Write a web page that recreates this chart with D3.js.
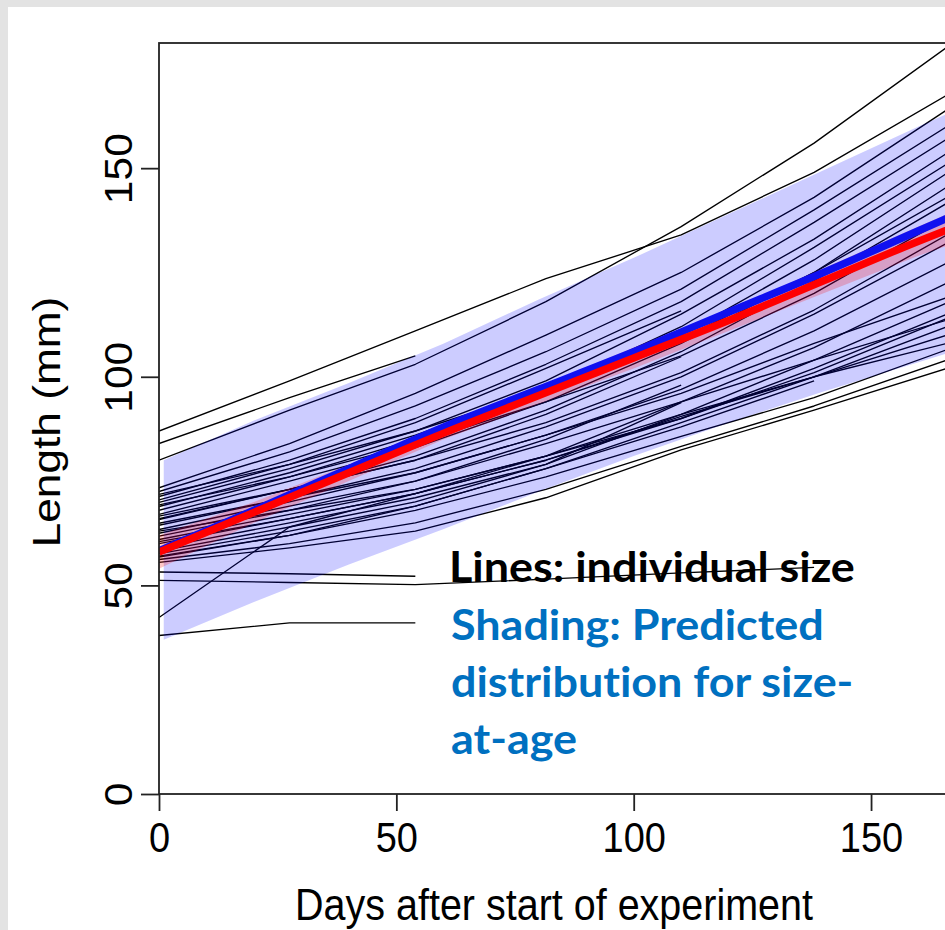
<!DOCTYPE html>
<html>
<head>
<meta charset="utf-8">
<script src="https://cdn.jsdelivr.net/npm/d3@7"></script>
<style>
  html, body { margin: 0; padding: 0; background: #e3e3e3; overflow: hidden; }
  svg { display: block; }
  text { font-variant-ligatures: none; font-feature-settings: "liga" 0; }
</style>
</head>
<body>
<svg id="chart" width="945" height="930"></svg>
<script>
// Measurement occasions (days after start of experiment)
const sampleDays = [0, 27.5, 54, 81.5, 110, 138, 166];

// Length (mm) of each individual at every occasion; shorter rows left the study early
const fishLengths = [
  [87, 99, 111, 123.5, 134, 149, 167.5],
  [84, 95, 105],
  [80, 92, 103, 118, 136, 156, 179],
  [73.4, 84, 96, 110, 125, 143, 164],
  [72.5, 82, 93, 106, 121, 140, 160],
  [71.8, 79, 87, 97, 109, 125, 143],
  [71.3, 80, 90, 103, 118, 137, 157],
  [70.5, 79, 89, 102, 115.8],
  [69.9, 78, 87, 99, 115, 133, 153.6],
  [69.3, 76, 84, 94, 105, 120, 138],
  [68.9, 77, 86, 97, 112, 131, 151],
  [68, 76, 85, 96, 110, 128, 148.8],
  [67, 75, 83, 94, 108, 125, 145.5],
  [66.6, 73, 80, 89, 101, 116, 134],
  [66, 73, 80, 91, 104.8],
  [65.8, 73, 81, 92, 106, 123, 141.6],
  [64.9, 71, 77, 86, 96, 108, 119],
  [64.4, 71, 78, 88, 100, 115, 132],
  [63.4, 70, 77, 86, 97, 111, 127.3],
  [63, 68, 73, 81, 90, 101, 114],
  [62.5, 69, 75, 84, 94, 107, 122.5],
  [61.8, 68, 75, 85, 98],
  [61, 67, 73, 81, 91, 104, 117.7],
  [60.5, 66, 72, 80, 90.5, 100, 108],
  [60, 66, 72, 81, 94, 104, 113.6],
  [59, 65, 71, 79, 93.8],
  [58.2, 64, 70, 79, 91, 100, 110],
  [57.6, 63, 69, 78, 89, 100, 112],
  [57, 62, 68, 76, 85.7, 95, 106.5],
  [56.8, 62, 69, 78, 88, 99],
  [56.2, 60, 65, 73, 83.3, 93, 104],
  [55.5, 59, 63, 71, 82.5, 92, 102],
  [53.2, 52.8, 52.2],
  [51.2, 50.7, 50.2, 51.5, 53, 54.3],
  [42.3, 64, 72, 80, 90, 102, 115],
  [38, 41, 41]
];

// Model curves
const modelDays    = [0, 20, 40, 60, 80, 100, 120, 140, 160, 170];
const fittedMean   = [58.3, 68, 78, 88, 97, 106, 115.5, 125, 135, 140];
const observedMean = [58, 67.5, 77, 86.5, 95.5, 104.5, 113.5, 123, 132.5, 137];
const observedLow  = [54, 65, 75, 85, 93.5, 102, 111, 120, 129, 133];
const observedHigh = [62, 70, 79, 88, 97.5, 107, 116, 126, 136, 141];

// Predicted distribution for size-at-age
const bandDays  = [1, 20, 40, 60, 80, 100, 120, 140, 160, 170];
const bandLow   = [37, 46, 55, 63.5, 72.5, 81, 89, 96.5, 103.5, 107];
const bandHigh  = [80, 89.5, 98.5, 108, 118.5, 128.5, 139, 149.5, 160, 165];

const xTicks = [0, 50, 100, 150];
const yTicks = [0, 50, 100, 150];

const noteBlack = ["Lines: individual size"];
const noteBlue  = ["Shading: Predicted", "distribution for size-", "at-age"];

const svg = d3.select("#chart");
const W = 945, H = 930;

// page background and white slide area
svg.append("rect").attr("width", W).attr("height", H).attr("fill", "#e3e3e3");
svg.append("rect").attr("x", 8).attr("y", 7).attr("width", W - 8).attr("height", H - 7).attr("fill", "#ffffff");

const x = d3.scaleLinear().domain([0, 170]).range([159, 159 + 170 * 4.747]);
const y = d3.scaleLinear().domain([0, 180]).range([794, 43]);

const plotLeft = x(0), plotRight = x(170), plotTop = y(180), plotBottom = y(0);

svg.append("defs").append("clipPath").attr("id", "plotClip")
  .append("rect").attr("x", plotLeft).attr("y", plotTop)
  .attr("width", plotRight - plotLeft).attr("height", plotBottom - plotTop);

const plot = svg.append("g").attr("clip-path", "url(#plotClip)");

// individual trajectories
const lineGen = d3.line().x(d => x(d[0])).y(d => y(d[1]));
fishLengths.forEach(row => {
  const pts = row.map((v, i) => [sampleDays[i], v]);
  plot.append("path").attr("d", lineGen(pts))
    .attr("fill", "none").attr("stroke", "#000").attr("stroke-width", 1.35)
    .attr("stroke-linejoin", "round");
});

// predicted distribution band, translucent over the lines
const area = d3.area().x(d => x(d[0])).y0(d => y(d[1])).y1(d => y(d[2]));
plot.append("path")
  .attr("d", area(bandDays.map((d, i) => [d, bandLow[i], bandHigh[i]])))
  .attr("fill", "rgb(0,0,255)").attr("fill-opacity", 0.2);

// interval around the observed mean
plot.append("path")
  .attr("d", area(modelDays.map((d, i) => [d, observedLow[i], observedHigh[i]])))
  .attr("fill", "rgb(255,0,0)").attr("fill-opacity", 0.22);

const meanLine = d3.line().x(d => x(d[0])).y(d => y(d[1])).curve(d3.curveMonotoneX);
plot.append("path").attr("d", meanLine(modelDays.map((d, i) => [d, fittedMean[i]])))
  .attr("fill", "none").attr("stroke", "#1010f0").attr("stroke-width", 7.5);
plot.append("path").attr("d", meanLine(modelDays.map((d, i) => [d, observedMean[i]])))
  .attr("fill", "none").attr("stroke", "#ff0000").attr("stroke-width", 7.5);

// frame
svg.append("rect").attr("x", plotLeft).attr("y", plotTop)
  .attr("width", plotRight - plotLeft).attr("height", plotBottom - plotTop)
  .attr("fill", "none").attr("stroke", "#222").attr("stroke-width", 1.8);

const stretch = 1.12;
const axisFont = "'Liberation Sans', Arial, sans-serif";

// x axis
const xAxis = d3.axisBottom(x).tickValues(xTicks).tickSize(17).tickPadding(0).tickFormat(d3.format("d"));
const gx = svg.append("g").attr("transform", `translate(0,${plotBottom})`).call(xAxis);
gx.select(".domain").remove();
gx.selectAll(".tick line").attr("stroke", "#222").attr("stroke-width", 1.8);
gx.selectAll(".tick text").remove();
gx.selectAll(".tick").append("text")
  .attr("transform", `translate(0,${852 - plotBottom}) scale(1,${stretch})`)
  .attr("text-anchor", "middle").attr("fill", "#000")
  .style("font-family", axisFont).style("font-size", "38px")
  .text(d => d);

// y axis
const yAxis = d3.axisLeft(y).tickValues(yTicks).tickSize(18).tickPadding(0).tickFormat(d3.format("d"));
const gy = svg.append("g").attr("transform", `translate(${plotLeft},0)`).call(yAxis);
gy.select(".domain").remove();
gy.selectAll(".tick line").attr("stroke", "#222").attr("stroke-width", 1.8);
gy.selectAll(".tick text").remove();
gy.selectAll(".tick").append("text")
  .attr("transform", `translate(${132 - plotLeft},0) scale(1,${stretch}) rotate(-90)`)
  .attr("text-anchor", "middle").attr("fill", "#000")
  .style("font-family", axisFont).style("font-size", "38px")
  .text(d => d);

// axis titles
svg.append("text")
  .attr("transform", `translate(554,920) scale(1,${stretch})`)
  .attr("text-anchor", "middle").attr("fill", "#000")
  .style("font-family", axisFont).style("font-size", "39.5px")
  .text("Days after start of experiment");
svg.append("text")
  .attr("transform", `translate(60,422) scale(1,${stretch}) rotate(-90)`)
  .attr("text-anchor", "middle").attr("fill", "#000")
  .style("font-family", axisFont).style("font-size", "39.5px")
  .text("Length (mm)");

// annotation
const noteFont = "Lato, 'Open Sans', sans-serif";
const probe = svg.append("text").style("font-family", noteFont).style("font-weight", 700)
  .style("font-size", "40px").text(noteBlack[0]);
const probeW = probe.node().getComputedTextLength();
probe.remove();
const noteSize = 40 * 406 / probeW;
const noteStretch = 30 / (0.72 * noteSize);

const notes = noteBlack.map(t => ({ t, c: "#000000" }))
  .concat(noteBlue.map(t => ({ t, c: "#0070C0" })));
const baselines = [582, 640, 697, 754];
notes.forEach((n, i) => {
  svg.append("text")
    .attr("transform", `translate(${i === 0 ? 449 : 451},${baselines[i]}) scale(1,${noteStretch})`)
    .attr("fill", n.c)
    .style("font-family", noteFont).style("font-weight", 700)
    .style("font-size", noteSize + "px")
    .text(n.t);
});
</script>
</body>
</html>
